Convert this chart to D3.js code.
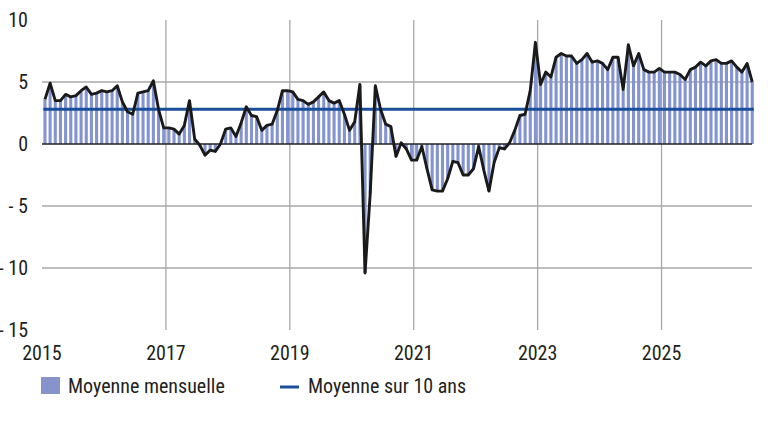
<!DOCTYPE html>
<html>
<head>
<meta charset="utf-8">
<script src="https://cdn.jsdelivr.net/npm/d3@7"></script>
<style>
  body { margin: 0; background: #fff; }
  text { font-family: "Liberation Sans Narrow", "Arial Narrow", "Roboto Condensed", Roboto, sans-serif; fill: #231f20; }
</style>
</head>
<body>
<div id="chart"></div>
<script>
// monthly values, Jan 2015 -> Jun 2026
var startYear = 2015;
var monthly = [
  3.6, 4.9, 3.5, 3.5, 4.0, 3.8, 3.9, 4.3, 4.6, 4.0, 4.1, 4.3,
  4.2, 4.3, 4.7, 3.4, 2.6, 2.4, 4.1, 4.2, 4.3, 5.1, 2.8, 1.3,
  1.3, 1.2, 0.8, 1.5, 3.5, 0.4, -0.1, -0.9, -0.5, -0.6, 0.0, 1.2,
  1.3, 0.6, 1.7, 3.0, 2.3, 2.2, 1.1, 1.5, 1.6, 2.7, 4.3, 4.3,
  4.2, 3.6, 3.5, 3.2, 3.4, 3.8, 4.2, 3.5, 3.3, 3.5, 2.4, 1.1,
  1.8, 4.8, -10.4, -4.0, 4.7, 2.8, 1.6, 1.4, -1.0, 0.1, -0.4, -1.3,
  -1.3, -0.2, -2.0, -3.7, -3.8, -3.8, -2.8, -1.4, -1.5, -2.5, -2.5, -2.0,
  -0.2, -2.1, -3.8, -1.5, -0.3, -0.4, 0.1, 1.1, 2.3, 2.4, 4.3, 8.2,
  4.8, 5.8, 5.4, 7.0, 7.3, 7.1, 7.1, 6.5, 6.8, 7.3, 6.6, 6.7,
  6.5, 6.0, 7.0, 7.0, 4.4, 8.0, 6.3, 7.3, 6.0, 5.8, 5.8, 6.1,
  5.8, 5.8, 5.8, 5.6, 5.2, 6.0, 6.2, 6.6, 6.3, 6.7, 6.8, 6.5,
  6.5, 6.7, 6.2, 5.8, 6.5, 5.0
];
var tenYearAvg = 2.8;
var yearTicks = [2015, 2017, 2019, 2021, 2023, 2025];
var valueTicks = [10, 5, 0, -5, -10, -15];
var legendLabels = ["Moyenne mensuelle", "Moyenne sur 10 ans"];

var w = 768, h = 445;
var padL = 42, padR = 752, padT = 20, padB = 330;

var svg = d3.select("#chart").append("svg")
    .attr("width", w)
    .attr("height", h);

var x = d3.scaleLinear().domain([2015, 2026.46]).range([padL, padR]);
var y = d3.scaleLinear().domain([-15, 10]).range([padB, padT]);

var barW = 3.1;
function mx(i) { return x(startYear + i / 12) + 1.4; }

// vertical grid
svg.append("g").selectAll("line")
    .data(yearTicks.slice(1))
    .enter().append("line")
    .attr("x1", function(d){ return x(d); })
    .attr("x2", function(d){ return x(d); })
    .attr("y1", padT)
    .attr("y2", padB)
    .attr("stroke", "#a8a8a8")
    .attr("stroke-width", 1.3);

// horizontal grid
svg.append("g").selectAll("line")
    .data([5, -5, -10])
    .enter().append("line")
    .attr("x1", padL)
    .attr("x2", padR)
    .attr("y1", function(d){ return y(d); })
    .attr("y2", function(d){ return y(d); })
    .attr("stroke", "#a8a8a8")
    .attr("stroke-width", 1.3);

// bars
svg.append("g").selectAll("rect")
    .data(monthly)
    .enter().append("rect")
    .attr("x", function(d, i){ return mx(i); })
    .attr("y", function(d){ return d >= 0 ? y(d) : y(0); })
    .attr("width", barW)
    .attr("height", function(d){ return Math.abs(y(d) - y(0)); })
    .style("fill", "#8494d0");

// zero line
svg.append("line")
    .attr("x1", padL).attr("x2", padR)
    .attr("y1", y(0)).attr("y2", y(0))
    .attr("stroke", "#222")
    .attr("stroke-width", 1.5);

// 10y average
svg.append("line")
    .attr("x1", mx(0)).attr("x2", mx(monthly.length - 1) + barW)
    .attr("y1", y(tenYearAvg)).attr("y2", y(tenYearAvg))
    .attr("stroke", "#1b4f9c")
    .attr("stroke-width", 3);

// monthly line
var line = d3.line()
    .x(function(d, i){ return mx(i) + barW / 2; })
    .y(function(d){ return y(d); });

svg.append("path")
    .datum(monthly)
    .attr("d", line)
    .attr("fill", "none")
    .attr("stroke", "#1a1a1a")
    .attr("stroke-width", 2.9)
    .attr("stroke-linejoin", "round");

// y labels
svg.append("g").selectAll("text")
    .data(valueTicks)
    .enter().append("text")
    .attr("x", 28)
    .attr("y", function(d){ return y(d) + 7; })
    .attr("text-anchor", "end")
    .style("font-size", "20px")
    .text(function(d){ return d < 0 ? "- " + Math.abs(d) : d; });

// x labels
svg.append("g").selectAll("text")
    .data(yearTicks)
    .enter().append("text")
    .attr("x", function(d){ return x(d); })
    .attr("y", 360)
    .attr("text-anchor", "middle")
    .style("font-size", "20px")
    .text(function(d){ return d; });

// legend
svg.append("rect")
    .attr("x", 41).attr("y", 377)
    .attr("width", 19).attr("height", 17)
    .style("fill", "#8794cc");
svg.append("text")
    .attr("x", 68).attr("y", 393)
    .style("font-size", "20px")
    .text(legendLabels[0]);
svg.append("line")
    .attr("x1", 280).attr("x2", 299)
    .attr("y1", 387).attr("y2", 387)
    .attr("stroke", "#1b4f9c")
    .attr("stroke-width", 3);
svg.append("text")
    .attr("x", 308).attr("y", 393)
    .style("font-size", "20px")
    .text(legendLabels[1]);
</script>
</body>
</html>
